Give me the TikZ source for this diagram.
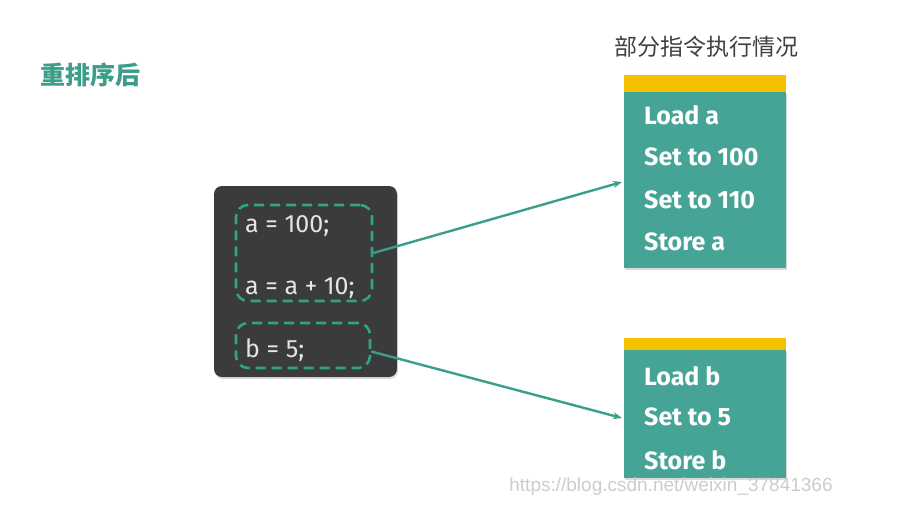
\documentclass[tikz,border=0pt]{standalone}
\usepackage{fontspec}
\setmainfont{Fira Sans}
\newfontfamily\cjk{Noto Sans CJK SC}
\newfontfamily\wmfont{Liberation Sans}
\usetikzlibrary{arrows.meta,positioning,calc,shadows}
\definecolor{Teal}{HTML}{3A9E8A}
\definecolor{CardTeal}{HTML}{46A496}
\definecolor{Band}{HTML}{F5C000}
\definecolor{Slate}{HTML}{3B3B3B}
\definecolor{Dash}{HTML}{2DA586}
\definecolor{Chalk}{HTML}{E4E4E4}
\newcommand{\OpRow}[3]{%
  \node[oprow] (#1) at (644,#2) {#3};%
}

\begin{document}
\begin{tikzpicture}[x=1pt,y=-1pt,
  codebox/.style={fill=Slate,rounded corners=8pt,minimum width=183pt,minimum height=191pt,
    drop shadow={opacity=0.25,shadow xshift=1pt,shadow yshift=-2pt}},
  dashbox/.style={draw=Dash,line width=2.6pt,dash pattern=on 10pt off 6pt,rounded corners=12pt},
  codeline/.style={anchor=west,inner sep=0pt,text=Chalk,font=\fontsize{25}{29}\selectfont},
  card/.style={fill=CardTeal,minimum width=162pt,inner sep=0pt,
    drop shadow={opacity=0.3,shadow xshift=1pt,shadow yshift=-2pt}},
  oprow/.style={anchor=west,inner sep=0pt,text=white,font=\bfseries\fontsize{25}{29}\selectfont},
  flow/.style={draw=Teal,line width=2.4pt,-{Stealth[length=9pt,width=7pt]}}]
\useasboundingbox (0,0) rectangle (903,512);
\node[anchor=west,text=Teal,font=\cjk\bfseries\fontsize{25}{29}\selectfont] (title) at (37,75) {重排序后};
\node[text=black!75,font=\cjk\fontsize{23}{27}\selectfont] (caption) at (706,47) {部分指令执行情况};
% source
\node[codebox] (code) at (305.5,281.5) {};
\node[dashbox,minimum width=136pt,minimum height=96pt] (grpA) at (304,253) {};
\node[dashbox,minimum width=134pt,minimum height=45pt] (grpB) at (303,345.5) {};
\node[codeline] (la) at (245,226) {a = 100;};
\node[codeline] (lb) at (245,288) {a = a + 10;};
\node[codeline] (lc) at (245,350) {b = 5;};
% cards
\node[card,minimum height=176pt] (cardA) at (705,180) {};
\fill[Band] (cardA.north west) rectangle ($(cardA.north east)+(0,-17)$);
\node[card,minimum height=128pt] (cardB) at (705,414) {};
\fill[Band] (cardB.north west) rectangle ($(cardB.north east)+(0,-12)$);
\OpRow{opA1}{115}{Load a}
\OpRow{opA2}{157}{Set to 100}
\OpRow{opA3}{200}{Set to 110}
\OpRow{opA4}{242}{Store a}
\OpRow{opB1}{376}{Load b}
\OpRow{opB2}{417}{Set to 5}
\OpRow{opB3}{460}{Store b}
% arrows
\coordinate (tipA) at (622,182);
\coordinate (tipB) at (622,418);
\draw[flow] (grpA.east) -- (tipA);
\draw[flow] ($(grpB.east)+(0,6)$) -- (tipB);
\node[text=black!20,font=\wmfont\fontsize{19}{22}\selectfont] (mark) at (671,487) {https://blog.csdn.net/weixin\_37841366};
\end{tikzpicture}
\end{document}
